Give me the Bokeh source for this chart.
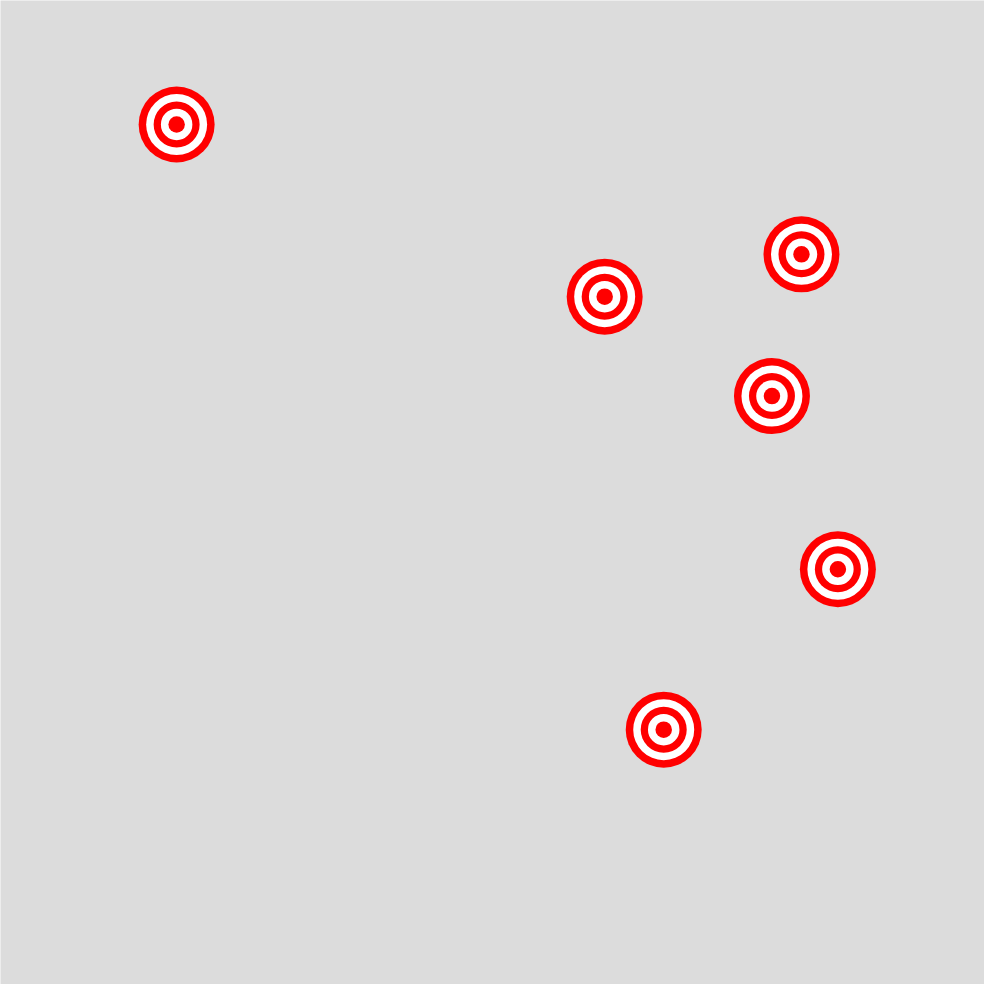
from bokeh.plotting import figure
from bokeh.models import ColumnDataSource, Range1d
from bokeh.embed import file_html
from bokeh.resources import INLINE

# target positions (0-100 data space, y up)
xs = [17.9, 61.4, 81.4, 78.4, 85.1, 67.4]
ys = [87.4, 69.9, 74.2, 59.8, 42.2, 25.9]

# ring diameters (screen px), outer to inner, with alternating colours
ring_sizes = [76, 61, 46, 31.5, 16.5]
ring_colors = ["#ff0000", "#ffffff", "#ff0000", "#ffffff", "#ff0000"]

bg = "#dcdcdc"

source = ColumnDataSource(data=dict(x=xs, y=ys))

p = figure(width=984, height=984, output_backend="svg", toolbar_location=None,
           x_range=Range1d(0, 100), y_range=Range1d(0, 100),
           background_fill_color=bg, border_fill_color=bg,
           min_border=0, outline_line_color=None)
p.axis.visible = False
p.grid.visible = False

for size, color in zip(ring_sizes, ring_colors):
    p.scatter(x='x', y='y', source=source, size=size, fill_color=color, line_color=None)

open("out.html", "w").write(file_html(p, INLINE))
